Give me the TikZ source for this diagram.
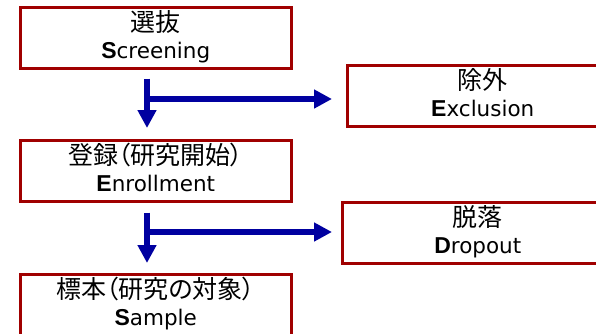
\documentclass[tikz,border=0pt]{standalone}
\usepackage{fontspec}
\setmainfont{DejaVu Sans}
\newfontfamily\cjk[RawFeature=+palt]{Noto Sans CJK JP}
\newfontfamily\inifont{Liberation Sans}
\usetikzlibrary{arrows.meta}
\definecolor{boxred}{RGB}{160,0,0}
\definecolor{arrblue}{RGB}{0,0,160}
\begin{document}
\begin{tikzpicture}[x=1pt,y=-1pt,
  stagebox/.style={draw=boxred,line width=2.5pt,fill=white,minimum width=271pt,minimum height=61pt,
    anchor=north west,align=center,inner sep=0pt,text depth=6pt,font=\fontsize{21.5}{27}\selectfont},
  flow/.style={draw=arrblue,line width=6pt,-{Triangle[length=18pt,width=18pt]}}]
\useasboundingbox (0,0) rectangle (596,333);
\newcommand\jp[1]{{\cjk\fontsize{25}{27}\selectfont #1}}
\newcommand\ini[1]{{\inifont\bfseries\fontsize{23}{27}\selectfont #1}}
\node[stagebox] (scr) at (19,6) {\jp{選抜}\\\ini{S}creening};
\node[stagebox] (exc) at (346,64) {\jp{除外}\\\ini{E}xclusion};
\node[stagebox] (enr) at (19,139) {\jp{登録（研究開始）}\\\ini{E}nrollment};
\node[stagebox] (drp) at (341,201) {\jp{脱落}\\\ini{D}ropout};
\node[stagebox] (smp) at (19,273) {\jp{標本（研究の対象）}\\\ini{S}ample};
\coordinate (h1) at (147,99);
\coordinate (h2) at (147,232);
\draw[flow] ([xshift=128pt,yshift=-9pt]scr.south west) -- ([xshift=128pt,yshift=11pt]enr.north west);
\draw[flow] (h1) -- ([xshift=-14pt]h1 -| exc.west);
\draw[flow] ([xshift=128pt,yshift=-10pt]enr.south west) -- ([xshift=128pt,yshift=10pt]smp.north west);
\draw[flow] (h2) -- ([xshift=-9pt]h2 -| drp.west);
\end{tikzpicture}
\end{document}
